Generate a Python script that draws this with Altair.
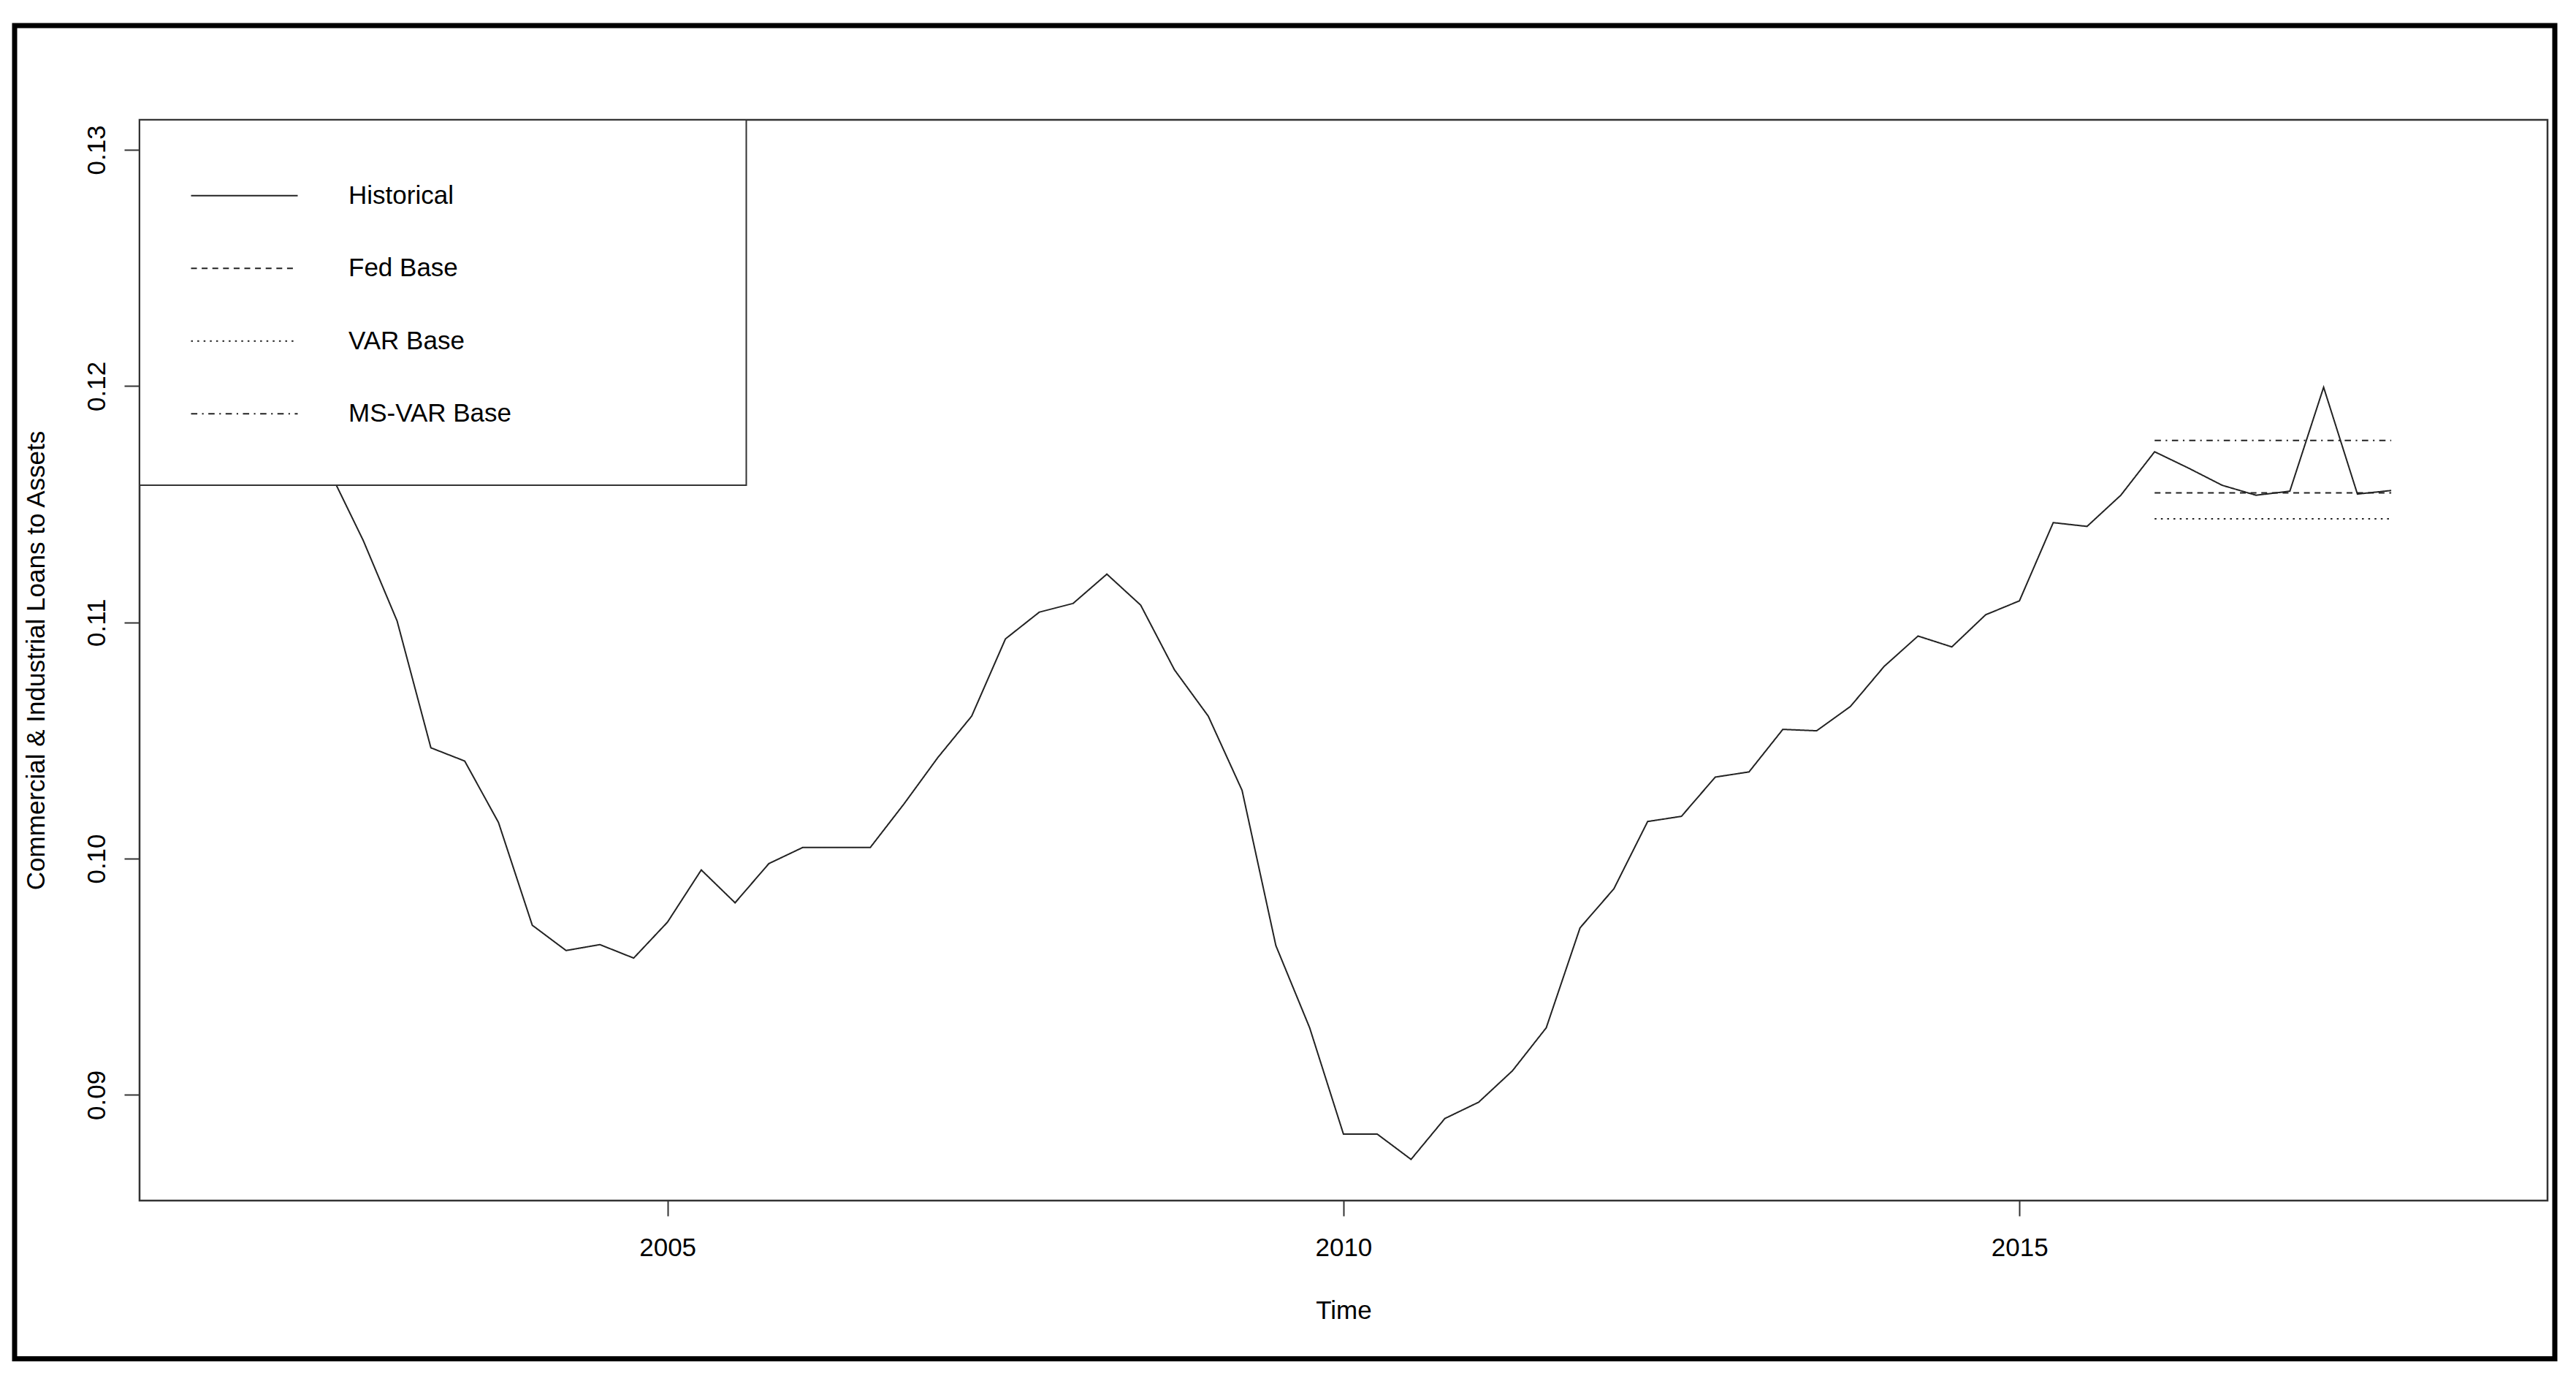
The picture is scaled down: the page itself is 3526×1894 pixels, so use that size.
import altair as alt
import pandas as pd

FONT = "Liberation Sans"

# ---- data ----
hist_years = [2001.75, 2002.0, 2002.25, 2002.5, 2002.75, 2003.0, 2003.25, 2003.5, 2003.75,
              2004.0, 2004.25, 2004.5, 2004.75, 2005.0, 2005.25, 2005.5, 2005.75,
              2006.0, 2006.25, 2006.5, 2006.75, 2007.0, 2007.25, 2007.5, 2007.75,
              2008.0, 2008.25, 2008.5, 2008.75, 2009.0, 2009.25, 2009.5, 2009.75,
              2010.0, 2010.25, 2010.5, 2010.75, 2011.0, 2011.25, 2011.5, 2011.75,
              2012.0, 2012.25, 2012.5, 2012.75, 2013.0, 2013.25, 2013.5, 2013.75,
              2014.0, 2014.25, 2014.5, 2014.75, 2015.0, 2015.25, 2015.5, 2015.75,
              2016.0, 2016.25, 2016.5, 2016.75, 2017.0, 2017.25, 2017.5, 2017.75]
hist_values = [0.1296, 0.1262, 0.1212, 0.1164, 0.11346, 0.11006, 0.10469, 0.10413, 0.10153,
               0.09718, 0.09611, 0.09636, 0.09579, 0.09731, 0.09952, 0.09813, 0.09979,
               0.10047, 0.10047, 0.10047, 0.10232, 0.10428, 0.10603, 0.10930, 0.11043,
               0.11080, 0.11204, 0.11073, 0.10799, 0.10603, 0.10289, 0.09632, 0.09284,
               0.08834, 0.08834, 0.08727, 0.08900, 0.08969, 0.09102, 0.09284, 0.09707,
               0.09872, 0.10157, 0.10179, 0.10345, 0.10367, 0.10547, 0.10541, 0.10644,
               0.10814, 0.10942, 0.10896, 0.11032, 0.11091, 0.11422, 0.11406, 0.11538,
               0.11722, 0.11653, 0.11580, 0.11538, 0.11555, 0.11995, 0.11543, 0.11558]

fc_years = [2016.0, 2016.25, 2016.5, 2016.75, 2017.0, 2017.25, 2017.5, 2017.75]
fed_base = [0.11548, 0.11548, 0.11548, 0.11548, 0.11548, 0.11548, 0.11548, 0.11548]
var_base = [0.11438, 0.11438, 0.11438, 0.11438, 0.11438, 0.11438, 0.11438, 0.11438]
msvar_base = [0.11770, 0.11770, 0.11770, 0.11770, 0.11770, 0.11770, 0.11770, 0.11770]

series_names = ["Historical", "Fed Base", "VAR Base", "MS-VAR Base"]
dash_styles = [[1, 0], [8, 6.6], [2.5, 6.1], [8.6, 6.45, 2.15, 6.45]]

x_ticks = [2005, 2010, 2015]
y_ticks = [0.09, 0.10, 0.11, 0.12, 0.13]
x_domain = [2001.095, 2018.906]
y_domain = [0.085526, 0.131268]

# ---- build table ----
rows = []
for yr, v in zip(hist_years, hist_values):
    rows.append({"year": yr, "value": v, "series": "Historical"})
for name, vals in [("Fed Base", fed_base), ("VAR Base", var_base), ("MS-VAR Base", msvar_base)]:
    for yr, v in zip(fc_years, vals):
        rows.append({"year": yr, "value": v, "series": name})
df = pd.DataFrame(rows)

W, H = 3296, 1479

lines = alt.Chart(df).mark_line(color="#222", strokeWidth=2, strokeCap="butt").encode(
    x=alt.X("year:Q",
            scale=alt.Scale(domain=x_domain, nice=False, zero=False),
            axis=alt.Axis(values=x_ticks, format="d", grid=False, domain=False,
                          tickSize=21, tickWidth=2, tickColor="#333",
                          labelFontSize=35, labelFont=FONT, labelColor="black",
                          labelPadding=26.7, labelBaseline="top",
                          title="Time", titleFontSize=35, titleFont=FONT,
                          titleFontWeight="normal", titleColor="black",
                          titleBaseline="alphabetic", titleAlign="center",
                          titleX=W / 2, titleY=161)),
    y=alt.Y("value:Q",
            scale=alt.Scale(domain=y_domain, nice=False, zero=False),
            axis=alt.Axis(values=y_ticks, format=".2f", grid=False, domain=False,
                          tickSize=21, tickWidth=2, tickColor="#333",
                          labelFontSize=35, labelFont=FONT, labelColor="black",
                          labelAngle=270, labelAlign="center", labelBaseline="bottom",
                          labelPadding=20,
                          title="Commercial & Industrial Loans to Assets",
                          titleFontSize=35, titleFont=FONT, titleFontWeight="normal",
                          titleColor="black", titleAngle=270, titleBaseline="alphabetic",
                          titleAlign="center", titleX=-131, titleY=H / 2)),
    strokeDash=alt.StrokeDash("series:N",
                              scale=alt.Scale(domain=series_names, range=dash_styles),
                              legend=alt.Legend(orient="none", legendX=106, legendY=66.3,
                                                direction="vertical", title=None,
                                                padding=0,
                                                symbolType="M-2,0H2", symbolSize=5329,
                                                symbolStrokeWidth=2, symbolStrokeColor="#222",
                                                labelFontSize=35, labelFont=FONT,
                                                labelColor="black", labelOffset=105,
                                                labelLimit=500, rowPadding=43.5)),
    detail="series:N",
    order="year:Q",
)

one = pd.DataFrame({"k": [0]})

legend_box = alt.Chart(one).mark_rect(fill="white", stroke="#333", strokeWidth=2).encode(
    x=alt.value(0), x2=alt.value(830.5), y=alt.value(0), y2=alt.value(500)
)

outer_frame = alt.Chart(one).mark_rect(fillOpacity=0, stroke="black", strokeWidth=7).encode(
    x=alt.value(-171), x2=alt.value(3306), y=alt.value(-129), y2=alt.value(1695.5)
)

chart = alt.layer(lines, legend_box, outer_frame).properties(
    width=W, height=H,
    autosize=alt.AutoSizeParams(type="none"),
    padding={"left": 183, "top": 156, "right": 30, "bottom": 240},
    background="white",
).configure(font=FONT).configure_view(stroke="#333", strokeWidth=2.5)

chart.save("out.html", embed_options={"renderer": "svg", "actions": False})
